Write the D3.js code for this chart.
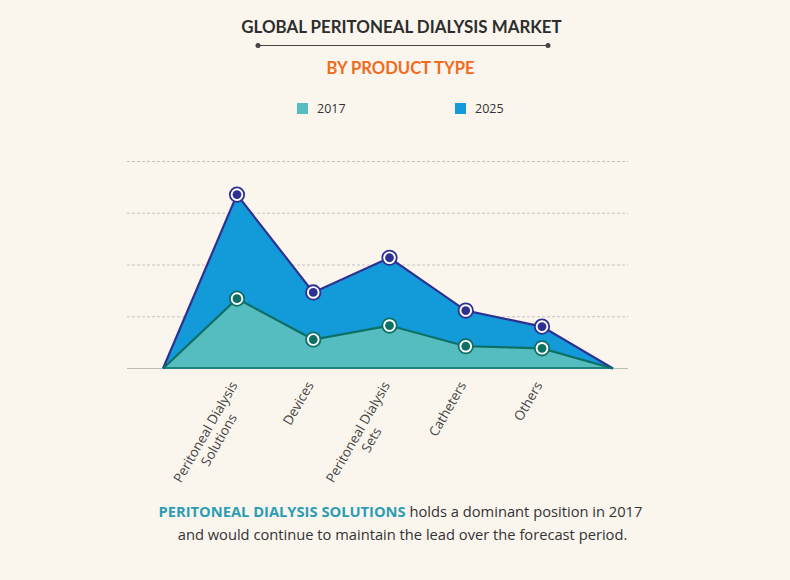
<!DOCTYPE html>
<html>
<head>
<meta charset="utf-8">
<script src="https://cdn.jsdelivr.net/npm/d3@7"></script>
<style>
    html, body { margin: 0; padding: 0; background: #faf6ee; }
    svg { display: block; }
    text { font-family: "Open Sans", sans-serif; }
</style>
</head>
<body>
<div id="chart"></div>
<script>
// Chart data (first and last point sit on the axis)
const categories = ['', 'Peritoneal Dialysis|Solutions', 'Devices', 'Peritoneal Dialysis|Sets', 'Catheters', 'Others', ' '];
const values2017 = [0, 1.35, 0.56, 0.83, 0.43, 0.39, 0];
const values2025 = [0, 3.36, 1.47, 2.14, 1.12, 0.81, 0];
const gridTicks = [0, 1, 2, 3, 4];
const legendLabels = ['2017', '2025'];

const width = 790;
const height = 580;

const svg = d3.select('#chart')
    .append('svg')
    .attr('width', width)
    .attr('height', height);

svg.append('rect')
    .attr('width', width)
    .attr('height', height)
    .attr('fill', '#faf6ee');

// Title block
svg.append('text')
    .attr('x', 401.5)
    .attr('y', 33)
    .attr('text-anchor', 'middle')
    .attr('font-size', 16.9)
    .attr('font-weight', 700)
    .attr('fill', '#2d2d2d')
    .style('font-family', 'Lato, sans-serif')
    .text('GLOBAL PERITONEAL DIALYSIS MARKET');

svg.append('line')
    .attr('x1', 258).attr('x2', 548)
    .attr('y1', 45.5).attr('y2', 45.5)
    .attr('stroke', '#444')
    .attr('stroke-width', 1.2);

svg.selectAll('.title-dot')
    .data([258, 548])
    .enter()
    .append('circle')
    .attr('class', 'title-dot')
    .attr('cx', d => d)
    .attr('cy', 45.5)
    .attr('r', 2.5)
    .attr('fill', '#444');

svg.append('text')
    .attr('x', 400.5)
    .attr('y', 74)
    .attr('text-anchor', 'middle')
    .attr('font-size', 16.6)
    .attr('font-weight', 700)
    .attr('fill', '#f26a1b')
    .style('font-family', 'Lato, sans-serif')
    .text('BY PRODUCT TYPE');

// Legend
const legendColor = d3.scaleOrdinal().domain(legendLabels).range(['#55bcc0', '#129ad9']);
const legendX = d3.scaleOrdinal().domain(legendLabels).range([297, 455]);

const legend = svg.selectAll('.legend')
    .data(legendLabels)
    .enter()
    .append('g')
    .attr('class', 'legend')
    .attr('transform', d => `translate(${legendX(d)}, 103)`);

legend.append('rect')
    .attr('width', 11)
    .attr('height', 11)
    .attr('fill', d => legendColor(d));

legend.append('text')
    .attr('x', 20)
    .attr('y', 10)
    .attr('font-size', 12.5)
    .attr('fill', '#333')
    .text(d => d);

// Scales, the spacing of the two end points differs from the inner ones
const x = d3.scaleLinear()
    .domain([0, 1, 5, 6])
    .range([163, 237, 542, 613]);

const y = d3.scaleLinear()
    .domain([0, 4])
    .range([368.5, 161.5]);

// Dashed grid lines, baseline is solid
svg.selectAll('.grid')
    .data(gridTicks)
    .enter()
    .append('line')
    .attr('class', 'grid')
    .attr('x1', 127)
    .attr('x2', 628)
    .attr('y1', d => y(d))
    .attr('y2', d => y(d))
    .attr('stroke', d => d === 0 ? '#bdbdb5' : '#c4c4bc')
    .attr('stroke-width', 1)
    .attr('stroke-dasharray', d => d === 0 ? null : '3,2');

const area = d3.area()
    .x((d, i) => x(i))
    .y0(y(0))
    .y1(d => y(d));

const line = d3.line()
    .x((d, i) => x(i))
    .y(d => y(d));

function drawSeries(values, fill, stroke) {
    svg.append('path')
        .attr('d', area(values))
        .attr('fill', fill);

    svg.append('path')
        .attr('d', line(values))
        .attr('fill', 'none')
        .attr('stroke', stroke)
        .attr('stroke-width', 2.2);

    // Markers only on the real categories, not the two end points
    const points = values
        .map((v, i) => ({ v, i }))
        .filter(d => d.i > 0 && d.i < values.length - 1);

    svg.selectAll(null)
        .data(points)
        .enter()
        .append('circle')
        .attr('cx', d => x(d.i))
        .attr('cy', d => y(d.v))
        .attr('r', 7.2)
        .attr('fill', '#fff')
        .attr('stroke', stroke)
        .attr('stroke-width', 1.8);

    svg.selectAll(null)
        .data(points)
        .enter()
        .append('circle')
        .attr('cx', d => x(d.i))
        .attr('cy', d => y(d.v))
        .attr('r', 4.4)
        .attr('fill', stroke);
}

drawSeries(values2025, '#129ad9', '#2f3192');
drawSeries(values2017, '#55bcc0', '#0d7065');

// Closing line along the bottom of the 2017 area
svg.append('line')
    .attr('x1', x(0))
    .attr('x2', x(categories.length - 1))
    .attr('y1', y(0) - 0.5)
    .attr('y2', y(0) - 0.5)
    .attr('stroke', '#0d7065')
    .attr('stroke-width', 1.6);

// Rotated category labels, two lines where the name is long
const labelData = categories
    .map((name, i) => ({ name, i }))
    .filter(d => d.name.trim() !== '');

const labels = svg.selectAll('.cat-label')
    .data(labelData)
    .enter()
    .append('text')
    .attr('class', 'cat-label')
    .attr('transform', d => `translate(${x(d.i) + 1}, 385) rotate(-60)`)
    .attr('text-anchor', 'end')
    .attr('font-size', 13.4)
    .attr('fill', '#444');

labels.each(function(d) {
    const text = d3.select(this);
    const spans = d.name.split('|').map((part, i) => text.append('tspan')
        .attr('x', 0)
        .attr('y', i * 15.5)
        .text(part));
    // centre the second line under the first
    if (spans.length > 1) {
        const w0 = spans[0].node().getComputedTextLength();
        const w1 = spans[1].node().getComputedTextLength();
        spans[1].attr('x', -(w0 - w1) / 2);
    }
});

// Footer note
const footer = svg.append('text')
    .attr('x', 400.5)
    .attr('y', 517)
    .attr('text-anchor', 'middle')
    .attr('font-size', 14.7)
    .attr('fill', '#333');

footer.append('tspan')
    .attr('font-weight', 700)
    .attr('fill', '#2b9db3')
    .text('PERITONEAL DIALYSIS SOLUTIONS');

footer.append('tspan')
    .text(' holds a dominant position in 2017');

svg.append('text')
    .attr('x', 402.5)
    .attr('y', 540)
    .attr('text-anchor', 'middle')
    .attr('font-size', 14.7)
    .attr('fill', '#333')
    .text('and would continue to maintain the lead over the forecast period.');
</script>
</body>
</html>
